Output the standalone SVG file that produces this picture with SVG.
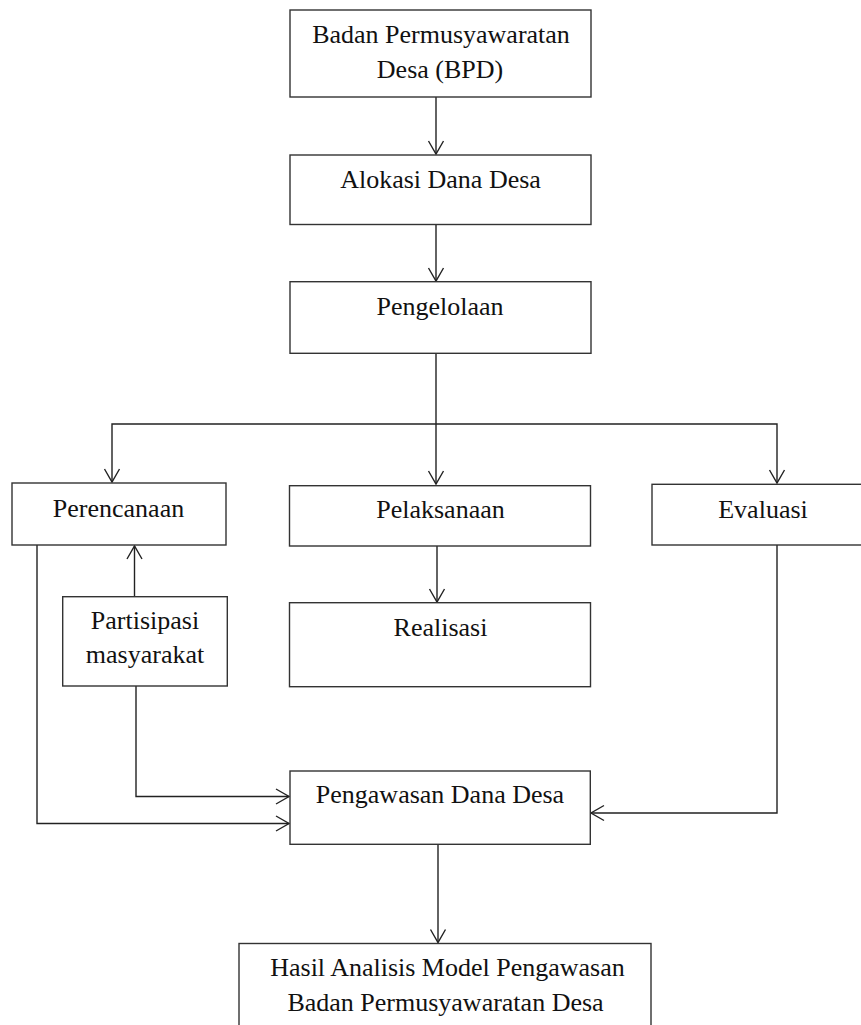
<svg xmlns="http://www.w3.org/2000/svg" width="861" height="1025" viewBox="0 0 861 1025">
<style>
.box{fill:#fff;stroke:#333;stroke-width:1.4}
.t{font-family:"Liberation Serif","Times New Roman",serif;font-size:26px;fill:#111;text-anchor:middle}
.c{fill:none;stroke:#222;stroke-width:1.4;marker-end:url(#ah)}
</style>
<defs>
<marker id="ah" markerUnits="userSpaceOnUse" markerWidth="16" markerHeight="17" refX="13" refY="7.5" orient="auto" overflow="visible">
<path d="M0,0 L13,7.5 L0,15" fill="none" stroke="#222" stroke-width="1.4"/>
</marker>
</defs>
<rect width="861" height="1025" fill="#fff"/>
<g id="connectors">
<path class="c" d="M436,97 V154"/>
<path class="c" d="M436,225 V281"/>
<path class="c" d="M436,353 V484"/>
<path class="c" d="M436,424 H112 V482"/>
<path class="c" d="M436,424 H777 V483"/>
<path class="c" d="M437,546 V602"/>
<path class="c" d="M134.5,596.7 V546"/>
<path class="c" d="M37,545 V823.5 H289"/>
<path class="c" d="M136,686 V796.5 H289"/>
<path class="c" d="M777,545 V813 H591"/>
<path class="c" d="M438,844.3 V942.5"/>
</g>
<g id="n-bpd"><rect class="box" x="290" y="10" width="301" height="87"/><text class="t" x="441" y="43">Badan Permusyawaratan</text><text class="t" x="440" y="78">Desa (BPD)</text></g>
<g id="n-alokasi"><rect class="box" x="290" y="155" width="301" height="69.5"/><text class="t" x="440.5" y="188">Alokasi Dana Desa</text></g>
<g id="n-pengelolaan"><rect class="box" x="290" y="281.7" width="301" height="71.6"/><text class="t" x="440" y="315">Pengelolaan</text></g>
<g id="n-perencanaan"><rect class="box" x="12" y="483" width="214" height="62"/><text class="t" x="118.5" y="516.7">Perencanaan</text></g>
<g id="n-pelaksanaan"><rect class="box" x="289.5" y="485.7" width="301" height="60.3"/><text class="t" x="440.5" y="518">Pelaksanaan</text></g>
<g id="n-evaluasi"><rect class="box" x="652" y="484.3" width="223" height="60.7"/><text class="t" x="763" y="518.3">Evaluasi</text></g>
<g id="n-partisipasi"><rect class="box" x="62.7" y="596.7" width="164.6" height="89.3"/><text class="t" x="145" y="629.3">Partisipasi</text><text class="t" x="145" y="663.3">masyarakat</text></g>
<g id="n-realisasi"><rect class="box" x="289.5" y="602.7" width="301" height="84"/><text class="t" x="440.5" y="636">Realisasi</text></g>
<g id="n-pengawasan"><rect class="box" x="290" y="771" width="300.3" height="73.3"/><text class="t" x="440" y="802.7">Pengawasan Dana Desa</text></g>
<g id="n-hasil"><rect class="box" x="239" y="943.5" width="412" height="90"/><text class="t" x="447.5" y="976">Hasil Analisis Model Pengawasan</text><text class="t" x="445.5" y="1011">Badan Permusyawaratan Desa</text></g>
</svg>
